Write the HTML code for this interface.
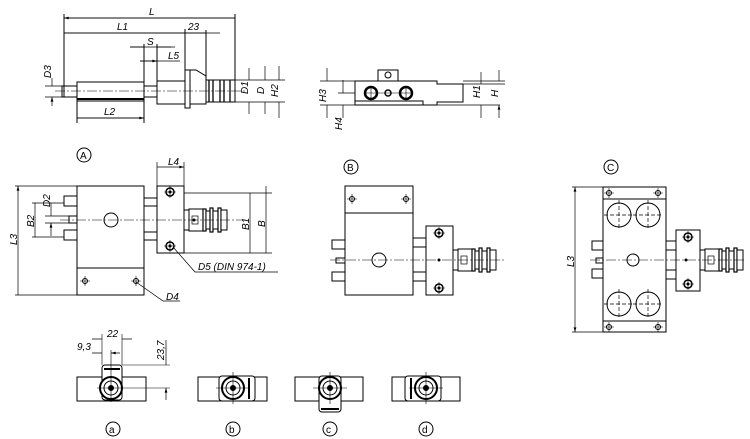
<!DOCTYPE html>
<html><head><meta charset="utf-8"><style>
html,body{margin:0;padding:0;background:#fff}
svg{display:block}
text{font-family:"Liberation Sans",sans-serif;font-style:italic;font-size:10px;fill:#000}
.t{font-style:normal}
</style></head><body>
<svg width="750" height="439" viewBox="0 0 750 439" xmlns="http://www.w3.org/2000/svg">
<defs>
<marker id="a" viewBox="0 0 10 6" refX="10" refY="3" markerWidth="7" markerHeight="4" orient="auto-start-reverse"><path d="M0,0L10,3L0,6z" fill="#000"/></marker>
<g id="cp" stroke="#000" fill="#fff">
<rect x="0" y="-10" width="5" height="20"/>
<rect x="5" y="-11" width="14" height="22"/>
<rect x="8" y="-4" width="6" height="8" fill="none" stroke-width=".7"/>
<rect x="19" y="-11" width="3" height="22" stroke-width="1.2"/>
<rect x="22" y="-9" width="4" height="18"/>
<rect x="26" y="-12" width="3" height="24" stroke-width="1.2"/>
<rect x="29" y="-9" width="5" height="18"/>
<rect x="34" y="-12" width="3" height="24" stroke-width="1.2"/>
<rect x="37" y="-10" width="6" height="20"/>
</g>
<g id="hs"><circle r="4" fill="#fff" stroke="#000" stroke-width="1.5"/><circle r="1.5" fill="#000"/><path d="M-6,0H6M0,-6V6" stroke="#000" stroke-width=".6"/></g>
<g id="hp"><circle r="2.5" fill="none" stroke="#000"/><path d="M-5,0H5M0,-5V5" stroke="#000" stroke-width=".6"/></g>
</defs>
<g stroke="#000" stroke-width="1" fill="none">
<rect x="62" y="86" width="15" height="11"/>
<rect x="77" y="82" width="67" height="19"/>
<line x1="77" y1="99" x2="144" y2="99" stroke-width="2"/>
<rect x="144" y="86" width="13" height="11"/>
<rect x="157" y="81" width="28" height="23"/>
<rect x="185" y="70" width="5" height="38"/>
<path d="M190,70H196L206,76V104H190"/>
<rect x="206" y="80" width="29" height="22"/>
<path d="M209,80V102M213,80V102M220,80V102M224,80V102M230,80V102" stroke-width="1.3"/>
<path d="M55,91H245" stroke-width=".6" stroke-dasharray="10,2,2,2"/>
<path d="M64,14V97M185,29V70M206,30V80M235,14V80M144,44V82M157,44V86M77,101V123M144,101V123"/>
<path d="M64,18H235M64,33H185M185,33H220M130,47H175M140,61H180M77,118H144" stroke-width=".7"/>
<path d="M64,18H235M64,33H185M206,33H185M77,118H144" stroke-width=".7" marker-start="url(#a)" marker-end="url(#a)"/>
<path d="M130,47H144M171,47H157M140,61H157" stroke-width=".7" marker-end="url(#a)"/>
<path d="M235,80H285M235,102H285M245,80H260" stroke-width=".7"/>
<path d="M249,68V80M249,114V102M265,66V80M265,114V102M279,66V80M279,118V102M52,78V86M52,106V97" stroke-width=".7" marker-end="url(#a)"/>
<path d="M45,86H62M45,97H62" stroke-width=".7"/>
<rect x="378" y="70" width="20" height="11"/>
<circle cx="388" cy="75" r="3"/>
<path d="M355,81H437V84H463V102H437V105H355Z"/>
<path d="M355,101H423V105" />
<circle cx="371" cy="93" r="6" stroke-width="2.5"/><circle cx="388" cy="93" r="3" stroke-width="1.5"/><circle cx="406" cy="93" r="6" stroke-width="2.5"/>
<path d="M365,93H412M371,87V99M406,87V99" stroke-width=".6"/>
<path d="M320,81H355M320,105H500M338,93H355M463,84H505M463,81H505" stroke-width=".7"/>
<path d="M327,68V81M327,118V105M343,80V93M343,118V105M481,72V84M481,118V105M499,70V81M499,118V105" stroke-width=".7" marker-end="url(#a)"/>
<rect x="77" y="186" width="67" height="109"/>
<path d="M77,268H144"/>
<rect x="64" y="196" width="13" height="10"/><rect x="64" y="230" width="13" height="10"/><rect x="69" y="216" width="8" height="7"/>
<rect x="144" y="198" width="13" height="8"/><rect x="144" y="232" width="13" height="8"/>
<circle cx="111" cy="220" r="7"/>
<rect x="157" y="186" width="27" height="67"/>
<use href="#cp" x="184" y="220"/>
<path d="M60,220H245" stroke-width=".6" stroke-dasharray="10,2,2,2"/>
<path d="M15,186H77M15,295H77M32,203H64M32,237H64M45,216H69M45,223H69M157,162V186M184,162V186M184,193H272M184,253H272" stroke-width=".7"/>
<path d="M18,186V295M35,203V237M250,193V253M266,186V253M157,167H184" stroke-width=".7" marker-start="url(#a)" marker-end="url(#a)"/>
<path d="M51,203V216M51,236V223" stroke-width=".7" marker-end="url(#a)"/>
<path d="M173,247L195,272H278M136,282L163,301H180" stroke-width=".7"/>
<circle cx="84" cy="155" r="7"/>
<rect x="345" y="186" width="68" height="109"/><path d="M345,213H413"/>
<rect x="332" y="240" width="13" height="9"/><rect x="332" y="272" width="13" height="9"/><rect x="336" y="258" width="9" height="5"/>
<rect x="413" y="238" width="13" height="9"/><rect x="413" y="272" width="13" height="9"/>
<circle cx="379" cy="260" r="7"/>
<rect x="426" y="226" width="27" height="69"/>
<use href="#cp" x="453" y="260"/>
<path d="M330,260H505" stroke-width=".6" stroke-dasharray="10,2,2,2"/>
<circle cx="351" cy="167" r="7"/>
<rect x="603" y="187" width="63" height="145"/><path d="M603,199H666M603,321H666"/>
<circle cx="619" cy="215" r="12"/><circle cx="648" cy="215" r="12"/><circle cx="619" cy="304" r="12"/><circle cx="648" cy="304" r="12"/>
<g stroke-width=".7" stroke-dasharray="4,2"><path d="M604,215H634M633,215H663M604,304H634M633,304H663M619,200V230M648,200V230M619,289V319M648,289V319"/></g>
<rect x="592" y="241" width="11" height="9"/><rect x="592" y="269" width="11" height="9"/><rect x="596" y="258" width="7" height="5"/>
<rect x="666" y="241" width="10" height="9"/><rect x="666" y="270" width="10" height="9"/>
<circle cx="633" cy="260" r="6"/>
<rect x="676" y="230" width="24" height="61"/>
<use href="#cp" x="700" y="260"/>
<path d="M590,260H745" stroke-width=".6" stroke-dasharray="10,2,2,2"/>
<path d="M572,187H603M572,332H603" stroke-width=".7"/>
<path d="M575,187V332" stroke-width=".7" marker-start="url(#a)" marker-end="url(#a)"/>
<circle cx="611" cy="167" r="7"/>
<rect x="77" y="377" width="69" height="24"/>
<rect x="102" y="365" width="20" height="35" rx="3" fill="#fff"/><path d="M104,369H120" stroke-width="2"/>
<circle cx="111" cy="388" r="11" fill="#fff" stroke-width="2"/><circle cx="111" cy="388" r="7"/><circle cx="111" cy="388" r="2.5" fill="#000"/>
<path d="M97,388H170M111,350V402M102,334V365M122,334V365M122,365H170" stroke-width=".6"/>
<path d="M92,339H102M132,339H122M92,353H102M120,353H111" stroke-width=".7" marker-end="url(#a)"/>
<path d="M166,340V365M166,400V388" stroke-width=".7" marker-end="url(#a)"/>
<rect x="198" y="377" width="69" height="24"/>
<rect x="219" y="376" width="36" height="25" rx="3" fill="#fff"/><path d="M249,378V399" stroke-width="2"/>
<circle cx="233" cy="388" r="11" fill="#fff" stroke-width="2"/><circle cx="233" cy="388" r="7"/><circle cx="233" cy="388" r="2.5" fill="#000"/>
<path d="M216,388H250M233,372V404" stroke-width=".6"/>
<rect x="295" y="377" width="68" height="24"/>
<rect x="319" y="376" width="22" height="36" rx="3" fill="#fff"/><path d="M321,409H339" stroke-width="2"/>
<circle cx="330" cy="388" r="11" fill="#fff" stroke-width="2"/><circle cx="330" cy="388" r="7"/><circle cx="330" cy="388" r="2.5" fill="#000"/>
<path d="M313,388H347M330,372V404" stroke-width=".6"/>
<rect x="392" y="377" width="68" height="24"/>
<rect x="405" y="376" width="36" height="25" rx="3" fill="#fff"/><path d="M411,378V399" stroke-width="2"/>
<circle cx="426" cy="388" r="11" fill="#fff" stroke-width="2"/><circle cx="426" cy="388" r="7"/><circle cx="426" cy="388" r="2.5" fill="#000"/>
<path d="M409,388H443M426,372V404" stroke-width=".6"/>
<circle cx="113" cy="429" r="7"/><circle cx="233" cy="429" r="7"/><circle cx="330" cy="429" r="7"/><circle cx="426" cy="429" r="7"/>
</g>
<use href="#hs" x="170" y="192"/><use href="#hs" x="170" y="246"/>
<use href="#hp" x="85" y="281"/><use href="#hp" x="136" y="281"/>
<use href="#hp" x="352" y="199"/><use href="#hp" x="406" y="199"/>
<use href="#hs" x="439" y="233"/><use href="#hs" x="439" y="288"/>
<use href="#hp" x="609" y="193"/><use href="#hp" x="658" y="193"/><use href="#hp" x="609" y="327"/><use href="#hp" x="658" y="327"/>
<use href="#hs" x="688" y="237"/><use href="#hs" x="688" y="284"/>
<circle cx="194" cy="220" r="1.5"/><circle cx="439" cy="260" r="1.5"/><circle cx="686" cy="260" r="1.5"/>
<text x="149" y="15">L</text>
<text x="117" y="30">L1</text>
<text x="188" y="30">23</text>
<text x="147" y="45">S</text>
<text x="168" y="59">L5</text>
<text x="104" y="115">L2</text>
<text transform="translate(51,78) rotate(-90)">D3</text>
<text transform="translate(248,94) rotate(-90)">D1</text>
<text transform="translate(264,94) rotate(-90)">D</text>
<text transform="translate(278,97) rotate(-90)">H2</text>
<text transform="translate(326,102) rotate(-90)">H3</text>
<text transform="translate(342,130) rotate(-90)">H4</text>
<text transform="translate(480,98) rotate(-90)">H1</text>
<text transform="translate(498,97) rotate(-90)">H</text>
<text class="t" x="80" y="159">A</text>
<text class="t" x="347" y="171">B</text>
<text class="t" x="607" y="171">C</text>
<text x="168" y="165">L4</text>
<text transform="translate(17,245) rotate(-90)">L3</text>
<text transform="translate(34,227) rotate(-90)">B2</text>
<text transform="translate(50,207) rotate(-90)">D2</text>
<text transform="translate(249,230) rotate(-90)">B1</text>
<text transform="translate(265,227) rotate(-90)">B</text>
<text x="198" y="270">D5 (DIN 974-1)</text>
<text x="166" y="300">D4</text>
<text transform="translate(574,267) rotate(-90)">L3</text>
<text x="107" y="337">22</text>
<text x="77" y="350">9,3</text>
<text transform="translate(164,360) rotate(-90)">23,7</text>
<text class="t" x="109" y="433">a</text>
<text class="t" x="229" y="433">b</text>
<text class="t" x="326" y="433">c</text>
<text class="t" x="422" y="433">d</text>
</svg>
</body></html>
